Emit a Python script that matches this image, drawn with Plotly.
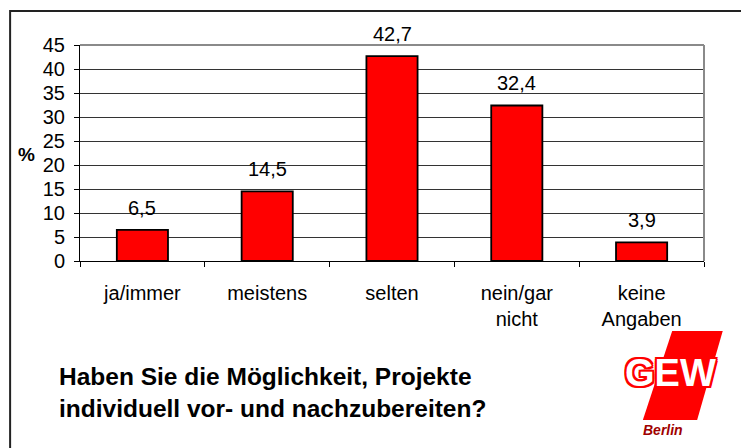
import plotly.graph_objects as go

categories = ['ja/immer', 'meistens', 'selten', 'nein/gar<br>nicht', 'keine<br>Angaben']
values = [6.5, 14.5, 42.7, 32.4, 3.9]
y_ticks = [0, 5, 10, 15, 20, 25, 30, 35, 40, 45]
title_text = 'Haben Sie die Möglichkeit, Projekte<br>individuell vor- und nachzubereiten?'

FONT = 'Liberation Sans, Arial, sans-serif'
labels = [f'{v:.1f}'.replace('.', ',') for v in values]

fig = go.Figure(go.Bar(
    x=categories,
    y=values,
    marker=dict(color='#ff0000', line=dict(color='black', width=1.8)),
    width=0.41,
))

# value labels above bars
for c, v, t in zip(categories, values, labels):
    fig.add_annotation(x=c, y=v, text=t, showarrow=False, yanchor='bottom',
                       yshift=9, font=dict(size=20, color='black', family=FONT))

# page body has an 8px margin, so the figure is a bit smaller than the window
fig.update_layout(
    width=741, height=440,
    margin=dict(l=72, r=45, t=37, b=187),
    paper_bgcolor='white', plot_bgcolor='white',
    font=dict(family=FONT, size=20, color='black'),
    showlegend=False,
    xaxis=dict(
        type='category', tickson='boundaries', ticks='outside', ticklen=5,
        tickcolor='black', showline=True, linecolor='black', linewidth=1,
        showgrid=False, ticklabelstandoff=14,
        tickfont=dict(size=20, family=FONT),
    ),
    yaxis=dict(
        range=[0, 45], tickvals=y_ticks, ticks='outside', ticklen=5,
        tickcolor='black', showline=True, linecolor='black', linewidth=1,
        showgrid=True, gridcolor='#333333', gridwidth=1, zeroline=False,
        ticklabelstandoff=5, tickfont=dict(size=20, family=FONT),
    ),
)

# plot area frame (top and right, grey)
fig.add_shape(type='line', xref='paper', yref='paper', x0=0, x1=1, y0=1, y1=1,
              line=dict(color='#8a8a8a', width=2))
fig.add_shape(type='line', xref='paper', yref='paper', x0=1, x1=1, y0=0, y1=1,
              line=dict(color='#8a8a8a', width=2))

# outer chart border (cropped at right and bottom)
fig.add_shape(type='rect', xref='paper', yref='paper',
              x0=-0.112, x1=1.2, y0=-1.5, y1=1.157,
              line=dict(color='#222222', width=2))

fig.add_annotation(xref='paper', yref='paper', x=-0.085, y=0.495, text='<b>%</b>',
                   xanchor='center', yanchor='middle',
                   showarrow=False, font=dict(size=19, family=FONT))

fig.add_annotation(xref='paper', yref='paper', x=-0.037, y=-0.465, xanchor='left',
                   yanchor='top', align='left', text='<b>' + title_text + '</b>',
                   showarrow=False, font=dict(size=24.5, family=FONT, color='black'))

# GEW logo
fig.add_shape(type='path', xref='paper', yref='paper',
              path='M 0.949,-0.324 L 1.03,-0.324 L 0.989,-0.736 L 0.902,-0.736 Z',
              fillcolor='#ff0000', line=dict(width=0))
outline = ', '.join(f'{dx}px {dy}px 0 #ff0000' for dx in (-2, 0, 2) for dy in (-2, 0, 2)
                    if dx or dy)
fig.add_annotation(xref='paper', yref='paper', x=0.947, y=-0.519, text='<b>GEW</b>',
                   xanchor='center', yanchor='middle', showarrow=False,
                   font=dict(size=38, family=FONT, color='white', shadow=outline))
fig.add_annotation(xref='paper', yref='paper', x=0.934, y=-0.782, text='<b><i>Berlin</i></b>',
                   xanchor='center', yanchor='middle', showarrow=False,
                   font=dict(size=14, family=FONT, color='#a00000'))

fig.write_html('out.html')
